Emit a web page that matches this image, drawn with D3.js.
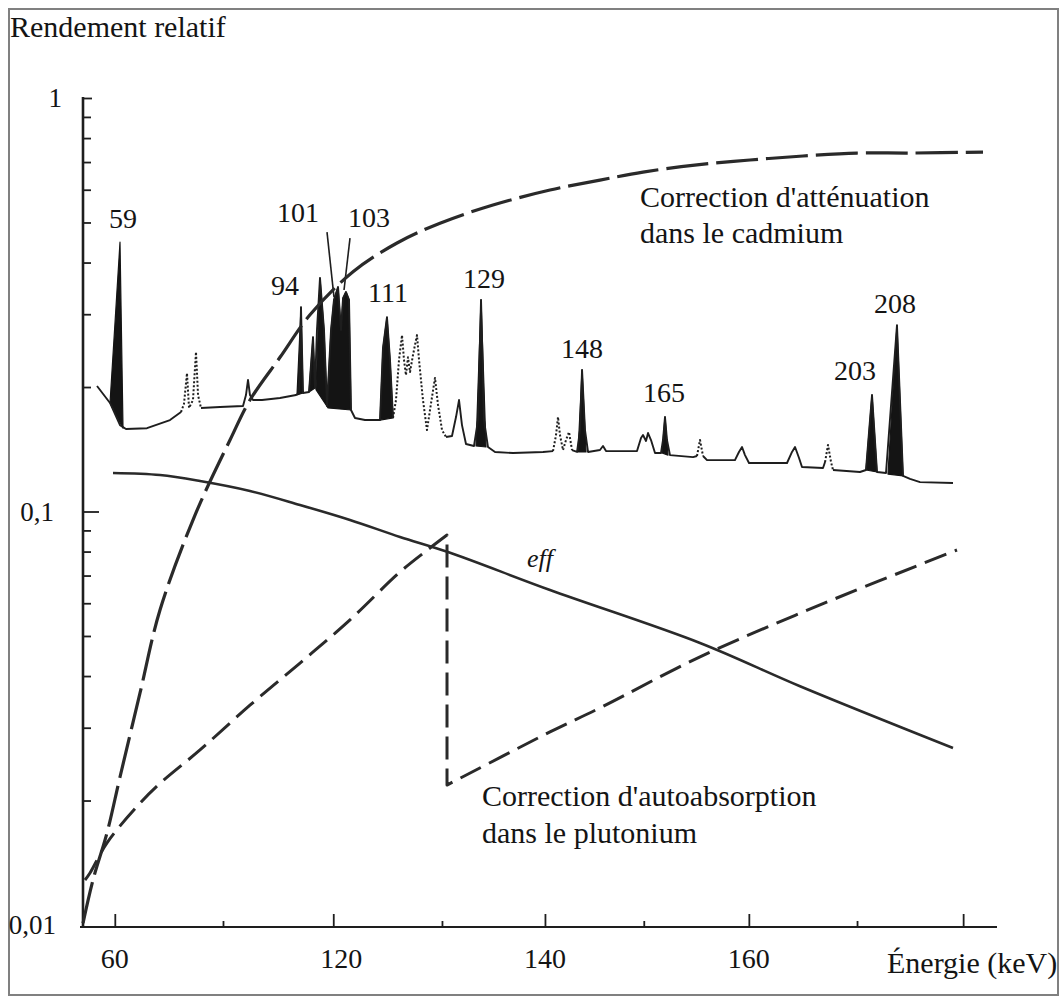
<!DOCTYPE html>
<html><head><meta charset="utf-8">
<script src="https://cdn.jsdelivr.net/npm/d3@7"></script>
<style>
body{margin:0;background:#fff}
svg{display:block}
</style>
</head><body>
<svg id="c" width="1061" height="998"></svg>
<script>
// ---------- axis ticks ----------
const xMajorTicks = [58.0, 100.0, 140.7, 179.9, 221.1];
const xMajorLabels = ["60", "120", "140", "160", ""];
const xMinorTicks = [78.8, 120.9, 159.7, 200.7];
const yMajorTicks = [1, 0.1, 0.01];
const yMajorLabels = ["1", "0,1", "0,01"];
const yMinorTicks = [0.9,0.8,0.7,0.6,0.5,0.4,0.3,0.2,0.09,0.08,0.07,0.06,0.05,0.04,0.03,0.02];

// ---------- curves [energy keV, relative yield] ----------
const cdAttenuation = [
  [51.89,0.0101],[53.81,0.01285],[56.50,0.0167],[59.00,0.0228],[62.85,0.0364],
  [66.69,0.0578],[73.42,0.098],[80.15,0.1489],[83.99,0.186],[89.76,0.236],
  [95.53,0.299],[103.80,0.380],[112.26,0.446],[120.52,0.498],[130.71,0.551],
  [141.67,0.599],[151.28,0.633],[159.55,0.662],[169.93,0.689],[180.12,0.708],
  [190.31,0.724],[200.70,0.736],[210.89,0.736],[224.92,0.740]
];
// rising branch, then the branch after the absorption edge
const puBeforeEdge = [
  [52.27,0.01285],[53.23,0.01336],[56.50,0.0158],[62.85,0.0197],[66.69,0.0220],
  [74.38,0.0265],[83.99,0.0340],[93.61,0.0430],[103.22,0.0547],[112.83,0.0714],
  [118.60,0.0816],[121.87,0.0877]
];
const puAfterEdge = [
  [121.87,0.0218],[141.67,0.0293],[151.28,0.0335],[170.51,0.0445],[194.51,0.0601],[219.92,0.0807]
];
const efficiency = [
  [57.65,0.1239],[66.69,0.1225],[74.38,0.1185],[83.99,0.1121],[93.61,0.1037],
  [103.22,0.0954],[112.83,0.0868],[122.06,0.0798],[141.67,0.0646],[170.51,0.0481],
  [189.74,0.0378],[219.15,0.0268]
];

// ---------- gamma spectrum ----------
const spectrum = [
  [54.58,0.2011],[57.08,0.183],[59.00,0.1618],[60.15,0.1583],[64.19,0.159],[68.61,0.1664],
  [70.73,0.174],[71.30,0.182],[71.88,0.216],[72.27,0.178],[73.03,0.186],[73.61,0.243],
  [74.00,0.1913],[74.57,0.178],[78.23,0.179],[82.65,0.180],[83.22,0.1913],[83.61,0.208],
  [83.99,0.1913],[84.57,0.186],[86.30,0.186],[89.76,0.1881],[92.84,0.1913],[93.41,0.1934],
  [93.80,0.312],[94.18,0.1934],[95.34,0.1945],[96.11,0.264],[96.49,0.199],[96.87,0.2748],
  [97.45,0.367],[98.22,0.2748],[98.80,0.180],[99.57,0.2748],[100.14,0.325],[100.92,0.349],
  [101.49,0.2748],[101.88,0.328],[102.45,0.3395],[103.03,0.325],[103.41,0.176],[104.18,0.1683],
  [106.10,0.1664],[108.99,0.1664],[109.56,0.2485],[110.33,0.295],[110.91,0.2325],[111.49,0.1683],
  [112.06,0.186],[112.64,0.2325],[113.22,0.267],[113.60,0.2325],[113.98,0.2138],[114.37,0.236],
  [114.76,0.2175],[115.33,0.239],[115.91,0.26],[116.10,0.267],[116.49,0.2325],[117.25,0.186],
  [118.02,0.1574],[118.60,0.176],[119.56,0.2104],[120.14,0.181],[120.91,0.1574],[121.68,0.1514],
  [122.83,0.1523],[123.60,0.1692],[124.18,0.186],[124.75,0.1618],[125.52,0.1456],[127.06,0.144],
  [127.83,0.1664],[128.41,0.325],[128.98,0.1664],[129.75,0.1432],[131.10,0.1393],[134.56,0.1385],
  [140.33,0.1393],[142.25,0.140],[142.83,0.1531],[143.21,0.1692],[143.59,0.1531],[144.17,0.1408],
  [144.75,0.1489],[145.33,0.1557],[145.90,0.1408],[146.87,0.1393],[147.44,0.1574],[147.83,0.22],
  [148.40,0.1574],[148.98,0.1393],[151.28,0.1408],[151.86,0.144],[152.44,0.140],[158.40,0.140],
  [159.17,0.1506],[159.55,0.1531],[160.13,0.1481],[160.52,0.1548],[161.09,0.1489],[161.86,0.1385],
  [163.01,0.1385],[163.40,0.1489],[163.78,0.1692],[164.16,0.1489],[164.74,0.1369],[169.17,0.1354],
  [169.93,0.1362],[170.51,0.1489],[171.09,0.1362],[171.86,0.1331],[177.23,0.1331],[178.00,0.1393],
  [178.59,0.1432],[179.16,0.1369],[179.93,0.131],[187.24,0.131],[188.20,0.1393],[188.78,0.1432],
  [189.55,0.1347],[190.12,0.1281],[194.16,0.1274],[194.55,0.1317],[195.12,0.1448],[195.70,0.1317],
  [196.08,0.126],[201.27,0.1246],[202.42,0.126],[203.58,0.1913],[204.54,0.1246],[206.27,0.1239],
  [208.38,0.282],[209.54,0.1219],[210.89,0.1199],[212.81,0.1178],[219.15,0.1172]
];
const dottedRanges = [[70.9,74.8],[111.7,121.9],[142.1,146.1],[169.7,171.3],[194.4,196.3]];

const filledPeaks = [
  [[57.08,0.183],[59.00,0.448],[59.58,0.159]],
  [[93.03,0.1913],[93.80,0.312],[94.18,0.1934]],
  [[95.34,0.1945],[96.11,0.264],[96.49,0.199]],
  [[96.68,0.197],[97.45,0.367],[98.22,0.2748],[98.80,0.180],[99.57,0.2748],[100.14,0.325],
   [100.92,0.349],[101.49,0.2748],[101.88,0.328],[102.45,0.3395],[103.03,0.325],[103.41,0.176],[99.0,0.178]],
  [[108.99,0.1664],[109.56,0.2485],[110.33,0.295],[110.91,0.2325],[111.49,0.1683]],
  [[127.45,0.144],[128.41,0.325],[129.37,0.1432]],
  [[147.06,0.1393],[147.83,0.22],[148.60,0.1393]],
  [[163.20,0.1385],[163.78,0.1692],[164.36,0.1369]],
  [[202.42,0.126],[203.58,0.1913],[204.54,0.1246]],
  [[206.65,0.1232],[208.38,0.282],[209.54,0.1219]]
];

const peakLabels = ["59","94","101","103","111","129","148","165","203","208"];
const peakLabelE = [59.58,90.72,93.22,106.88,110.53,128.98,147.83,163.59,200.31,208.0];
const peakLabelV = [0.485,0.333,0.5013,0.488,0.321,0.347,0.235,0.184,0.208,0.302];
const leaders = [
  [[98.80,0.474],[100.14,0.330]],
  [[103.22,0.4585],[102.07,0.3433]]
];

// ---------- drawing ----------
const FONT = "'Liberation Serif', 'DejaVu Serif', 'Times New Roman', serif";
const svg = d3.select("#c").attr("font-family", FONT);
const ink = "#1e1e1e";
const x = d3.scaleLinear().domain([59, 208]).range([120, 895]);
const y = d3.scaleLog().domain([0.01, 1]).range([925, 98]);
const axisY0 = 927, axisX0 = 83;

svg.append("rect").attr("x", 9).attr("y", 9).attr("width", 1049).attr("height", 986)
  .attr("fill", "none").attr("stroke", "#808080").attr("stroke-width", 2);

// axes
const gx = svg.append("g").attr("transform", `translate(0,${axisY0})`);
gx.append("line").attr("x1", 80).attr("x2", 997).attr("stroke", ink).attr("stroke-width", 2.2);
gx.call(g => g.append("g").call(d3.axisTop(x).tickValues(xMajorTicks).tickSize(13).tickFormat(""))
  .call(a => a.select(".domain").remove()));
gx.call(g => g.append("g").call(d3.axisTop(x).tickValues(xMinorTicks).tickSize(6).tickFormat(""))
  .call(a => a.select(".domain").remove()));
gx.selectAll(".tick line").attr("stroke", ink).attr("stroke-width", 1.8);

const txt = sel => sel.attr("font-family", FONT).attr("fill", "#141414");

svg.append("g").selectAll("text").data(xMajorTicks).join("text").call(txt)
  .attr("x", (d, i) => x(d) + (i === 1 ? 8 : 0)).attr("y", 968).attr("text-anchor", "middle").attr("font-size", 28)
  .text((d, i) => xMajorLabels[i]);

const gy = svg.append("g").attr("transform", `translate(${axisX0},0)`);
gy.append("line").attr("y1", 97).attr("y2", axisY0 + 1).attr("stroke", ink).attr("stroke-width", 2.6);
gy.append("g").call(d3.axisRight(y).tickValues([0.1]).tickSize(16).tickFormat(""))
  .call(a => a.select(".domain").remove());
gy.append("g").call(d3.axisRight(y).tickValues([1]).tickSize(9).tickFormat(""))
  .call(a => a.select(".domain").remove());
gy.append("g").call(d3.axisRight(y).tickValues(yMinorTicks).tickSize(8).tickFormat(""))
  .call(a => a.select(".domain").remove());
gy.selectAll(".tick line").attr("stroke", ink).attr("stroke-width", 1.8);
svg.append("g").selectAll("text").data(yMajorTicks).join("text").call(txt)
  .attr("x", (d, i) => [62, 54, 56][i]).attr("y", d => y(d) + 9).attr("text-anchor", "end").attr("font-size", 27)
  .text((d, i) => yMajorLabels[i]);

// spectrum
const line = d3.line().x(d => x(d[0])).y(d => y(d[1]));
const inDotted = e => dottedRanges.some(([a, b]) => e >= a && e <= b);
const runs = [];
let cur = null;
for (let i = 0; i < spectrum.length - 1; i++) {
  const p = spectrum[i], q = spectrum[i + 1];
  const dotted = inDotted((p[0] + q[0]) / 2);
  if (!cur || cur.dotted !== dotted) { cur = {dotted, pts: [p]}; runs.push(cur); }
  cur.pts.push(q);
}
const gs = svg.append("g");
gs.selectAll("path.peak").data(filledPeaks).join("path").attr("class", "peak")
  .attr("d", d => line(d) + "Z").attr("fill", "#141414").attr("stroke", "#141414")
  .attr("stroke-width", 1.2).attr("stroke-linejoin", "round");
gs.selectAll("path.run").data(runs).join("path").attr("class", "run")
  .attr("d", d => line(d.pts)).attr("fill", "none").attr("stroke", ink)
  .attr("stroke-width", d => d.dotted ? 2 : 1.9)
  .attr("stroke-dasharray", d => d.dotted ? "2,2" : null).attr("stroke-linejoin", "round");
gs.selectAll("path.leader").data(leaders).join("path").attr("class", "leader")
  .attr("d", d => line(d)).attr("stroke", ink).attr("stroke-width", 1.6);
gs.selectAll("text").data(peakLabels).join("text").call(txt)
  .attr("x", (d, i) => x(peakLabelE[i])).attr("y", (d, i) => y(peakLabelV[i]))
  .attr("text-anchor", "middle").attr("font-size", 28).text(d => d);

// curves
const smooth = d3.line().x(d => x(d[0])).y(d => y(d[1])).curve(d3.curveCatmullRom.alpha(0.5));
svg.append("path").attr("d", smooth(efficiency)).attr("fill", "none")
  .attr("stroke", "#2a2a2a").attr("stroke-width", 2.6);
svg.append("path").attr("d", smooth(cdAttenuation)).attr("fill", "none")
  .attr("stroke", "#2a2a2a").attr("stroke-width", 3.2).attr("stroke-dasharray", "42,8");
svg.append("path").attr("d", smooth(puBeforeEdge) + smooth(puAfterEdge).replace(/^M/, "L"))
  .attr("fill", "none").attr("stroke", "#2a2a2a").attr("stroke-width", 3)
  .attr("stroke-dasharray", "23,9").attr("stroke-linejoin", "round");

// annotations
const ann = svg.append("g").attr("font-size", 30);
const note = (px, py, s) => ann.append("text").call(txt).attr("x", px).attr("y", py).text(s);
note(10, 37, "Rendement relatif");
note(640, 207, "Correction d'atténuation");
note(640, 243, "dans le cadmium");
note(482, 806, "Correction d'autoabsorption");
note(482, 843, "dans le plutonium");
note(887, 973, "Énergie (keV)");
note(527, 567, "eff").attr("font-style", "italic").attr("font-size", 26);
</script>
</body></html>
